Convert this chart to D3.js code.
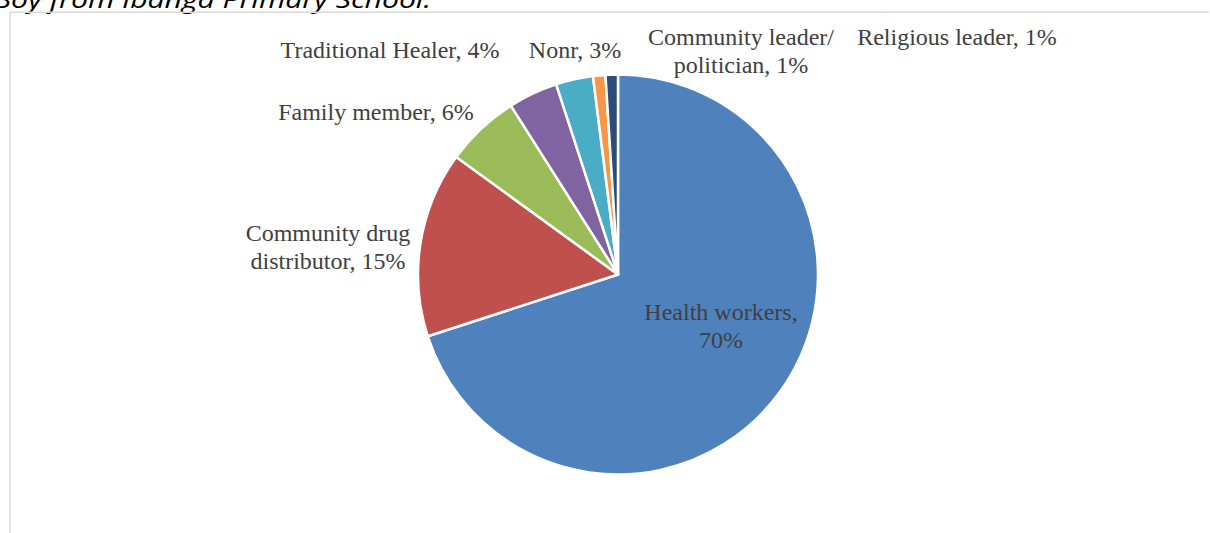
<!DOCTYPE html>
<html>
<head>
<meta charset="utf-8">
<script src="https://cdn.jsdelivr.net/npm/d3@7"></script>
<style>
  html, body { margin: 0; padding: 0; background: #fff; }
  svg { display: block; }
</style>
</head>
<body>
<script>
// Who respondents go to for advice: share of mentions (%)
const categories = [
  "Health workers",
  "Community drug distributor",
  "Family member",
  "Traditional Healer",
  "Nonr",
  "Community leader/ politician",
  "Religious leader"
];
const shares = [70, 15, 6, 4, 3, 1, 1];
const sliceColors = ["#4F81BD", "#C0504D", "#9BBB59", "#8064A2", "#4BACC6", "#F79646", "#2C4D75"];

// Label text lines per category
const labelLines = [
  ["Health workers,", "70%"],
  ["Community drug", "distributor, 15%"],
  ["Family member, 6%"],
  ["Traditional Healer, 4%"],
  ["Nonr, 3%"],
  ["Community leader/", "politician, 1%"],
  ["Religious leader, 1%"]
];

// Layout: where each label block sits (centre x, first baseline y)
const labelLayout = [
  { x: 721, y: 320 },
  { x: 328, y: 241 },
  { x: 376, y: 120 },
  { x: 390, y: 58 },
  { x: 575, y: 58 },
  { x: 741, y: 45 },
  { x: 957, y: 45 }
];

const W = 1210, H = 533;
const cx = 618, cy = 274.5, R = 200;

const svg = d3.select("body").append("svg")
  .attr("width", W).attr("height", H);

// Caption text running off the top of the frame
svg.append("text")
  .attr("x", -7).attr("y", 8)
  .attr("font-family", "'Open Sans', 'DejaVu Sans', sans-serif")
  .attr("font-style", "italic")
  .attr("font-size", 24)
  .attr("textLength", 438)
  .attr("lengthAdjust", "spacingAndGlyphs")
  .attr("fill", "#000")
  .text("Boy from Ibanga Primary School.");

// Chart frame edges
svg.append("line")
  .attr("x1", 10).attr("x2", 10).attr("y1", 12).attr("y2", H)
  .attr("stroke", "#d9d9d9").attr("stroke-width", 1.5);
svg.append("line")
  .attr("x1", 9.5).attr("x2", 1209).attr("y1", 12.3).attr("y2", 12.3)
  .attr("stroke", "#d9d9d9").attr("stroke-width", 1.5);

const data = categories.map((c, i) => ({ name: c, value: shares[i], i }));

const pie = d3.pie().value(d => d.value).sort(null);
const arc = d3.arc().innerRadius(0).outerRadius(R);

const g = svg.append("g").attr("transform", `translate(${cx},${cy})`);

g.selectAll("path.slice")
  .data(pie(data))
  .join("path")
  .attr("class", "slice")
  .attr("d", arc)
  .attr("fill", d => sliceColors[d.data.i])
  .attr("stroke", "#fff")
  .attr("stroke-width", 2.5)
  .attr("stroke-linejoin", "round");

// Data labels
const labels = svg.append("g")
  .attr("font-family", "'Liberation Serif', 'Times New Roman', serif")
  .attr("font-size", 24)
  .attr("fill", "#404040")
  .attr("text-anchor", "middle");

data.forEach((d, i) => {
  const pos = labelLayout[i];
  const t = labels.append("text").attr("x", pos.x).attr("y", pos.y);
  labelLines[i].forEach((line, k) => {
    t.append("tspan")
      .attr("x", pos.x)
      .attr("dy", k === 0 ? 0 : 27.5)
      .text(line);
  });
});
</script>
</body>
</html>
